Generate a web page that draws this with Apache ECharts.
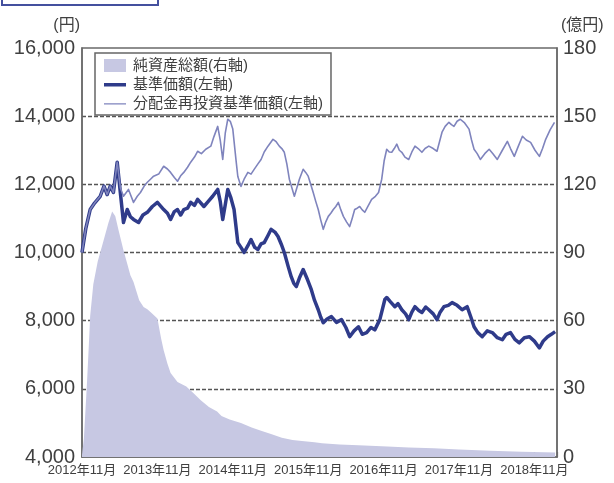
<!DOCTYPE html>
<html>
<head>
<meta charset="utf-8">
<script src="https://cdn.jsdelivr.net/npm/echarts@6/dist/echarts.min.js"></script>
<style>
html,body{margin:0;padding:0;background:#fff;}
#c{width:614px;height:483px;}
</style>
</head>
<body>
<div id="c"></div>
<script>
// x = months elapsed since 2012年11月
const seriesNames = ['純資産総額(右軸)', '基準価額(左軸)', '分配金再投資基準価額(左軸)'];
const leftTicks = [4000, 16000, 2000];   // min, max, interval (円)
const rightTicks = [0, 180, 30];         // min, max, interval (億円)
const startYear = 2012;

// 純資産総額 (億円, right axis)
const netAssets = [[0,1],[0.3,8],[0.5,18],[0.8,33],[1.1,50],[1.3,62],[1.8,76],[2.5,86],[3.4,95],[4.2,103],[4.8,108],[5.3,106],[5.8,100],[6.6,91],[7.2,85],[7.7,80],[8.2,77],[9.1,69],[9.8,66],[10.4,65],[11.2,63],[12.0,61],[12.6,52],[13.0,47],[13.6,41],[14.1,37],[15.2,33],[16.6,31],[17.8,28],[18.9,25],[20.2,22],[21.5,20],[22.2,18],[23.5,16.5],[25.3,15],[27.0,13],[28.5,11.5],[30.2,10],[31.8,8.5],[33.5,7.5],[35.0,7],[37.0,6.5],[38.2,6],[41.0,5.5],[44.0,5.2],[48.6,4.6],[52.0,4.2],[56.0,3.8],[60.0,3.3],[65.0,2.8],[70.0,2.3],[75.3,2.0]];

// 基準価額 (円, left axis)
const nav = [[0,10000],[0.6,10700],[1.3,11260],[2.0,11450],[2.9,11650],[3.5,11950],[4.0,11700],[4.5,11950],[5.0,11760],[5.6,12650],[6.1,11760],[6.6,10880],[7.2,11260],[7.7,11050],[8.2,10970],[9.0,10880],[9.7,11100],[10.4,11180],[11.2,11350],[12.0,11470],[13.0,11260],[13.6,11150],[14.1,10970],[14.7,11200],[15.2,11260],[15.7,11100],[16.2,11260],[16.8,11300],[17.3,11470],[17.9,11380],[18.4,11560],[19.4,11350],[20.1,11500],[20.8,11650],[21.6,11850],[22.0,11500],[22.4,10970],[22.8,11400],[23.2,11850],[23.7,11600],[24.2,11260],[24.8,10290],[25.3,10150],[25.8,10000],[26.4,10200],[26.9,10380],[27.5,10150],[28.0,10090],[28.5,10250],[29.0,10290],[29.6,10500],[30.1,10680],[30.7,10600],[31.2,10470],[31.7,10250],[32.2,10000],[32.8,9600],[33.3,9290],[33.7,9100],[34.1,9000],[34.6,9250],[35.2,9500],[35.9,9200],[36.5,8910],[37.0,8600],[37.6,8320],[38.0,8100],[38.4,7940],[39.0,8050],[39.7,8120],[40.5,7950],[41.3,8030],[42.0,7800],[42.6,7530],[43.3,7700],[44.0,7820],[44.6,7600],[45.3,7650],[46.0,7800],[46.6,7730],[47.4,8030],[48.2,8620],[48.5,8680],[49.1,8550],[49.8,8410],[50.3,8500],[50.9,8320],[51.5,8200],[52.0,8030],[52.5,8250],[53.0,8410],[53.6,8300],[54.1,8240],[54.7,8400],[55.2,8320],[55.9,8200],[56.5,8030],[57.0,8250],[57.6,8410],[58.3,8450],[58.9,8530],[59.7,8450],[60.5,8320],[61.3,8410],[61.9,8100],[62.4,7820],[63.0,7650],[63.7,7530],[64.5,7700],[65.3,7650],[66.1,7500],[66.9,7440],[67.5,7600],[68.2,7650],[68.9,7450],[69.6,7350],[70.4,7500],[71.2,7530],[72.0,7400],[72.8,7200],[73.4,7400],[74.1,7530],[74.7,7600],[75.3,7680]];

// 分配金再投資基準価額 (円, left axis)
const navReinvested = [[0,10000],[0.6,10700],[1.3,11260],[2.0,11450],[2.9,11650],[3.5,11950],[4.0,11700],[4.5,11950],[5.0,11760],[5.6,12650],[6.1,11900],[6.6,11650],[7.4,11850],[8.2,11470],[8.8,11650],[9.3,11760],[9.9,11950],[10.4,12060],[10.9,12150],[11.4,12240],[12.2,12300],[13.0,12530],[13.6,12450],[14.1,12350],[14.7,12200],[15.2,12090],[15.7,12250],[16.2,12350],[16.8,12500],[17.3,12650],[17.9,12800],[18.4,12970],[19.0,12900],[19.7,13030],[20.5,13120],[21.0,13400],[21.6,13700],[22.0,13300],[22.4,12730],[22.8,13500],[23.2,13910],[23.6,13850],[24.0,13620],[24.5,12730],[24.8,12230],[25.3,11940],[25.8,12150],[26.4,12350],[26.9,12300],[27.4,12440],[28.0,12600],[28.5,12730],[29.0,12950],[29.6,13120],[30.4,13320],[30.9,13250],[31.4,13120],[31.8,13050],[32.2,12940],[32.6,12600],[33.0,12150],[33.4,11900],[33.8,11650],[34.2,11900],[34.6,12150],[35.2,12440],[35.6,12350],[36.0,12240],[36.4,12000],[36.8,11760],[37.2,11500],[37.6,11260],[38.0,10950],[38.4,10680],[38.8,10900],[39.2,11060],[39.6,11150],[40.0,11260],[40.4,11350],[40.8,11470],[41.2,11250],[41.6,11060],[42.1,10900],[42.6,10760],[43.0,11000],[43.4,11260],[43.8,11300],[44.2,11350],[44.6,11250],[45.0,11180],[45.5,11350],[46.1,11560],[46.7,11650],[47.2,11760],[47.7,12150],[48.1,12700],[48.5,13030],[48.9,12950],[49.3,12940],[49.7,13050],[50.1,13180],[50.5,13000],[50.9,12940],[51.4,12800],[52.0,12730],[52.5,12950],[53.0,13120],[53.5,13050],[54.1,12940],[54.6,13050],[55.2,13120],[55.9,13050],[56.5,12970],[56.9,13250],[57.3,13530],[57.8,13700],[58.4,13820],[58.8,13750],[59.2,13700],[59.7,13850],[60.2,13910],[60.9,13800],[61.6,13620],[62.0,13300],[62.4,13030],[62.9,12900],[63.4,12730],[64.1,12900],[64.8,13030],[65.4,12900],[66.1,12730],[66.9,13000],[67.7,13260],[68.2,13050],[68.8,12820],[69.4,13100],[70.1,13410],[70.7,13300],[71.4,13230],[72.1,13000],[72.8,12820],[73.3,13050],[73.8,13320],[74.5,13600],[75.2,13820]];

const FONT = "'Liberation Sans', 'Noto Sans CJK JP', sans-serif";
const TXT = '#404040';
const FRAME = '#6a6a6a';
// legend line icons (tiny points at top/bottom keep the 22x13 box so the bar stays thin)
const thickIcon = 'path://M0,0L0.01,0L0.01,0.01L0,0.01Z M0,5L22,5L22,8.5L0,8.5Z M0,12.99L0.01,12.99L0.01,13L0,13Z';
const thinIcon  = 'path://M0,0L0.01,0L0.01,0.01L0,0.01Z M0,6.2L22,6.2L22,7.5L0,7.5Z M0,12.99L0.01,12.99L0.01,13L0,13Z';

const chart = echarts.init(document.getElementById('c'), null, {renderer: 'canvas'});
chart.setOption({
  animation: false,
  backgroundColor: '#fff',
  textStyle: {fontFamily: FONT},
  grid: {left: 82, right: 57, top: 48, bottom: 26, show: true, borderColor: FRAME, borderWidth: 1.5},
  graphic: [{
    type: 'rect', left: 1, top: -10,
    shape: {x: 0, y: 0, width: 156, height: 14},
    style: {fill: '#fff', stroke: '#44509e', lineWidth: 2}
  }],
  legend: {
    left: 95, top: 53, orient: 'vertical',
    padding: [5, 8, 4, 9], itemGap: 4, itemWidth: 22, itemHeight: 13,
    borderColor: '#666', borderWidth: 1.5,
    textStyle: {fontSize: 15, color: TXT, fontFamily: FONT, width: 240, padding: [0, 0, 0, 2]},
    data: [
      {name: seriesNames[0], icon: 'rect'},
      {name: seriesNames[1], icon: thickIcon},
      {name: seriesNames[2], icon: thinIcon}
    ]
  },
  xAxis: {
    type: 'value', min: 0, max: 75.6, interval: 12,
    axisLine: {show: true, lineStyle: {color: FRAME, width: 1.5}},
    axisTick: {show: true, inside: true, length: 5, lineStyle: {color: FRAME, width: 1.2}},
    splitLine: {show: false},
    axisLabel: {
      fontSize: 13, color: TXT, margin: 7, fontFamily: FONT,
      formatter: v => (v % 12 === 0) ? (startYear + v / 12) + '年11月' : ''
    }
  },
  yAxis: [{
    type: 'value', min: leftTicks[0], max: leftTicks[1], interval: leftTicks[2],
    name: '(円)', nameLocation: 'end', nameGap: 14,
    nameTextStyle: {fontSize: 16, color: TXT, align: 'right', verticalAlign: 'bottom', padding: [0, 2, 0, 0], fontFamily: FONT},
    axisLine: {show: true, lineStyle: {color: FRAME, width: 1.5}},
    axisTick: {show: false},
    axisLabel: {fontSize: 20, color: TXT, margin: 7, fontFamily: FONT,
      formatter: v => v.toLocaleString('en-US')},
    splitLine: {show: true, showMinLine: false, showMaxLine: false,
      lineStyle: {color: '#555', width: 1.3, type: [4, 2]}}
  }, {
    type: 'value', min: rightTicks[0], max: rightTicks[1], interval: rightTicks[2],
    position: 'right',
    name: '(億円)', nameLocation: 'end', nameGap: 14,
    nameTextStyle: {fontSize: 16, color: TXT, align: 'left', verticalAlign: 'bottom', padding: [0, 0, 0, 4], fontFamily: FONT},
    axisLine: {show: true, lineStyle: {color: FRAME, width: 1.5}},
    axisTick: {show: false},
    axisLabel: {fontSize: 20, color: TXT, margin: 6, fontFamily: FONT},
    splitLine: {show: false}
  }],
  series: [{
    name: seriesNames[0], type: 'line', yAxisIndex: 1, data: netAssets,
    showSymbol: false, symbol: 'none', z: 1,
    itemStyle: {color: '#c7c8e3'},
    lineStyle: {width: 0, color: '#c7c8e3'},
    areaStyle: {color: '#c7c8e3', opacity: 1}
  }, {
    name: seriesNames[1], type: 'line', yAxisIndex: 0, data: nav,
    showSymbol: false, symbol: 'none', z: 3,
    itemStyle: {color: '#2f3b8a'},
    lineStyle: {width: 3.5, color: '#2f3b8a', join: 'round'}
  }, {
    name: seriesNames[2], type: 'line', yAxisIndex: 0, data: navReinvested,
    showSymbol: false, symbol: 'none', z: 4,
    itemStyle: {color: '#7f84bd'},
    lineStyle: {width: 1.6, color: '#7f84bd', join: 'round'}
  }]
});
</script>
</body>
</html>
